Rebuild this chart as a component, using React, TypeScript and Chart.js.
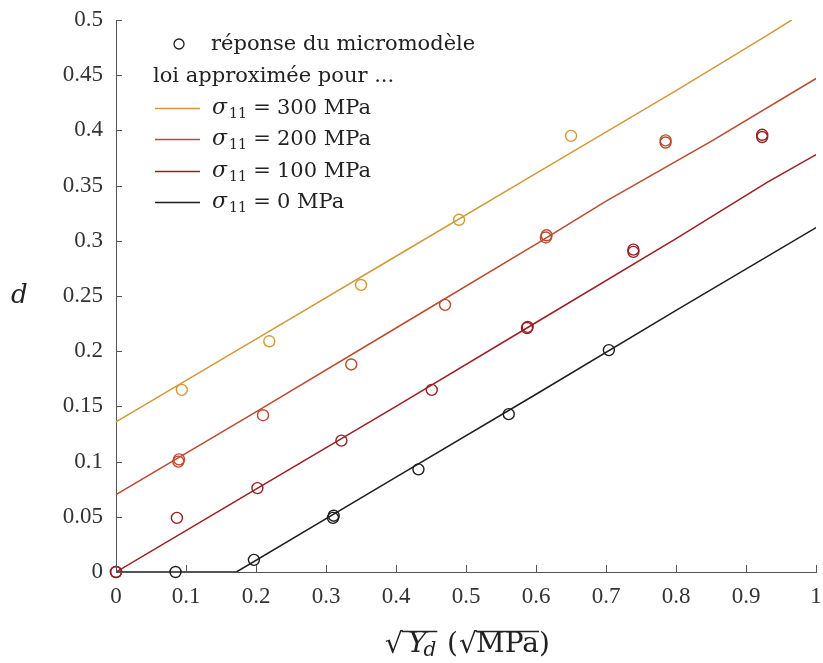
import React, { useEffect, useRef } from 'react';
import { Chart, registerables } from 'chart.js';

Chart.register(...registerables);

// ---- axis ticks ----
const xTickValues = [0, 0.1, 0.2, 0.3, 0.4, 0.5, 0.6, 0.7, 0.8, 0.9, 1];
const xTickLabels = ['0', '0.1', '0.2', '0.3', '0.4', '0.5', '0.6', '0.7', '0.8', '0.9', '1'];
const yTickValues = [0, 0.05, 0.1, 0.15, 0.2, 0.25, 0.3, 0.35, 0.4, 0.45, 0.5];
const yTickLabels = ['0', '0.05', '0.1', '0.15', '0.2', '0.25', '0.3', '0.35', '0.4', '0.45', '0.5'];

// ---- approximated laws (lines) ----
const line300X = [0, 0.2, 0.4, 0.6, 0.8, 0.93, 0.965];
const line300Y = [0.136, 0.211, 0.286, 0.361, 0.436, 0.486, 0.5];
const line200X = [0, 0.2, 0.4, 0.6, 0.7, 0.85, 1];
const line200Y = [0.07, 0.145, 0.221, 0.297, 0.336, 0.39, 0.447];
const line100X = [0, 0.2, 0.4, 0.6, 0.8, 0.93, 1];
const line100Y = [0, 0.075, 0.15, 0.226, 0.302, 0.353, 0.378];
const line0X = [0, 0.172, 0.4, 0.6, 0.8, 1];
const line0Y = [0, 0, 0.086, 0.161, 0.237, 0.312];

// ---- micromodel responses (points) ----
const pts300X = [0.094, 0.219, 0.35, 0.49, 0.65];
const pts300Y = [0.165, 0.209, 0.26, 0.319, 0.395];
const pts200X = [0.089, 0.09, 0.21, 0.336, 0.47, 0.614, 0.615, 0.785, 0.785];
const pts200Y = [0.1, 0.102, 0.142, 0.188, 0.242, 0.303, 0.305, 0.389, 0.391];
const pts100X = [0, 0.087, 0.202, 0.322, 0.451, 0.587, 0.588, 0.739, 0.739, 0.923, 0.923];
const pts100Y = [0, 0.049, 0.076, 0.119, 0.165, 0.221, 0.222, 0.29, 0.292, 0.394, 0.396];
const pts0X = [0, 0.085, 0.197, 0.31, 0.311, 0.432, 0.561, 0.704];
const pts0Y = [0, 0, 0.011, 0.049, 0.051, 0.093, 0.143, 0.201];

// ---- legend / labels ----
const legendMarkerText = 'réponse du micromodèle';
const legendHeader = 'loi approximée pour ...';
const stressValues = ['300', '200', '100', '0'];
const stressUnit = 'MPa';
const colors = ['#D1993B', '#BC4A2D', '#9A1E22', '#1E1E1E'];

const zip = (xs: number[], ys: number[]) => xs.map((x, i) => ({ x, y: ys[i] }));

const TICKFONT = '"Liberation Serif", serif';
const TEXTFONT = '"DejaVu Serif", serif';

const decorPlugin = {
  id: 'decor',
  afterDraw(chart: any) {
    const ctx = chart.ctx as CanvasRenderingContext2D;
    const xs = chart.scales.x;
    const ys = chart.scales.y;
    const area = chart.chartArea;
    ctx.save();
    // inward ticks
    ctx.strokeStyle = '#555';
    ctx.lineWidth = 1;
    xTickValues.forEach((v) => {
      const px = Math.round(xs.getPixelForValue(v)) + 0.5;
      ctx.beginPath();
      ctx.moveTo(px, area.bottom);
      ctx.lineTo(px, area.bottom - 7);
      ctx.stroke();
    });
    yTickValues.forEach((v) => {
      const py = Math.round(ys.getPixelForValue(v)) + 0.5;
      ctx.beginPath();
      ctx.moveTo(area.left, py);
      ctx.lineTo(area.left + 6, py);
      ctx.stroke();
    });

    // legend
    ctx.fillStyle = '#222';
    ctx.textBaseline = 'alphabetic';
    ctx.textAlign = 'left';
    ctx.strokeStyle = '#1E1E1E';
    ctx.lineWidth = 1.3;
    ctx.beginPath();
    ctx.arc(179, 44, 5, 0, Math.PI * 2);
    ctx.stroke();
    ctx.font = `21px ${TEXTFONT}`;
    ctx.fillText(legendMarkerText, 211, 50);
    ctx.fillText(legendHeader, 153, 82);
    const rowY = [108, 139, 171, 202];
    stressValues.forEach((s, i) => {
      const y = rowY[i];
      ctx.strokeStyle = colors[i];
      ctx.lineWidth = 1.5;
      ctx.beginPath();
      ctx.moveTo(155, y + 0.5);
      ctx.lineTo(200, y + 0.5);
      ctx.stroke();
      const base = y + 5.5;
      ctx.fillStyle = '#222';
      ctx.textAlign = 'left';
      ctx.font = `italic 22px ${TEXTFONT}`;
      ctx.fillText('σ', 212, base);
      const ws = ctx.measureText('σ').width;
      ctx.font = `14px ${TEXTFONT}`;
      ctx.fillText('11', 212 + ws + 2, base + 4);
      ctx.font = `21px ${TEXTFONT}`;
      ctx.textAlign = 'center';
      ctx.fillText('=', 262, base);
      ctx.textAlign = 'left';
      ctx.fillText(`${s} ${stressUnit}`, 277, base);
    });

    // y title
    ctx.fillStyle = '#222';
    ctx.font = `italic 26px ${TEXTFONT}`;
    ctx.fillText('d', 11, 303);

    // x title: √Y_d (√MPa)
    const base = 652;
    const barY = 631.5;
    ctx.font = `28px ${TEXTFONT}`;
    ctx.fillText('√', 385, base + 1);
    const root1End = 385 + ctx.measureText('√').width - 1;
    ctx.font = `italic 28px ${TEXTFONT}`;
    ctx.fillText('Y', 408, base);
    let x2 = 408 + ctx.measureText('Y').width - 3;
    ctx.font = `italic 20px ${TEXTFONT}`;
    ctx.fillText('d', x2, base + 4);
    x2 += ctx.measureText('d').width + 1;
    ctx.strokeStyle = '#222';
    ctx.lineWidth = 1.3;
    ctx.beginPath();
    ctx.moveTo(root1End, barY);
    ctx.lineTo(x2, barY);
    ctx.stroke();
    ctx.font = `28px ${TEXTFONT}`;
    ctx.fillText('(', 447, base);
    ctx.fillText('√', 459, base + 1);
    const root2End = 459 + ctx.measureText('√').width - 1;
    ctx.fillText('MPa', 476, base);
    const mpaEnd = 476 + ctx.measureText('MPa').width;
    ctx.beginPath();
    ctx.moveTo(root2End, barY);
    ctx.lineTo(mpaEnd, barY);
    ctx.stroke();
    ctx.fillText(')', mpaEnd, base);
    ctx.restore();
  },
};

export default function App() {
  const canvasRef = useRef<HTMLCanvasElement | null>(null);

  useEffect(() => {
    if (!canvasRef.current) return;
    const lineDs = (xs: number[], ys: number[], color: string) => ({
      type: 'line' as const,
      data: zip(xs, ys),
      borderColor: color,
      backgroundColor: color,
      borderWidth: 1.5,
      pointRadius: 0,
      fill: false,
      tension: 0,
    });
    const ptDs = (xs: number[], ys: number[], color: string) => ({
      type: 'scatter' as const,
      data: zip(xs, ys),
      borderColor: color,
      backgroundColor: 'rgba(0,0,0,0)',
      borderWidth: 1.4,
      pointRadius: 5.5,
      pointStyle: 'circle',
      showLine: false,
      clip: false as any,
    });
    const chart = new Chart(canvasRef.current, {
      type: 'scatter',
      data: {
        datasets: [
          ptDs(pts300X, pts300Y, colors[0]),
          ptDs(pts200X, pts200Y, colors[1]),
          ptDs(pts100X, pts100Y, colors[2]),
          ptDs(pts0X, pts0Y, colors[3]),
          lineDs(line300X, line300Y, colors[0]),
          lineDs(line200X, line200Y, colors[1]),
          lineDs(line100X, line100Y, colors[2]),
          lineDs(line0X, line0Y, colors[3]),
        ] as any,
      },
      options: {
        animation: false,
        responsive: true,
        maintainAspectRatio: false,
        layout: { padding: { top: 20, right: 6, left: 0, bottom: 0 } },
        plugins: { legend: { display: false }, tooltip: { enabled: false } },
        scales: {
          x: {
            type: 'linear',
            min: 0,
            max: 1,
            afterBuildTicks: (s: any) => {
              s.ticks = xTickValues.map((v) => ({ value: v }));
            },
            afterFit: (s: any) => {
              s.height = 91;
              s.paddingLeft = 0;
              s.paddingRight = 0;
            },
            ticks: {
              callback: (v: any) => xTickLabels[xTickValues.findIndex((t) => Math.abs(t - Number(v)) < 1e-9)] ?? '',
              font: { family: TICKFONT, size: 23 },
              color: '#333',
              padding: 11,
              maxRotation: 0,
              autoSkip: false,
            },
            grid: { display: true, drawOnChartArea: false, drawTicks: false },
            border: { display: true, color: '#555', width: 1 },
          },
          y: {
            type: 'linear',
            min: 0,
            max: 0.5,
            afterBuildTicks: (s: any) => {
              s.ticks = yTickValues.map((v) => ({ value: v }));
            },
            afterFit: (s: any) => {
              s.width = 116;
              s.paddingTop = 0;
              s.paddingBottom = 0;
            },
            ticks: {
              callback: (v: any) => yTickLabels[yTickValues.findIndex((t) => Math.abs(t - Number(v)) < 1e-9)] ?? '',
              font: { family: TICKFONT, size: 23 },
              color: '#333',
              padding: 13,
              autoSkip: false,
            },
            grid: { display: true, drawOnChartArea: false, drawTicks: false },
            border: { display: true, color: '#555', width: 1 },
          },
        },
      },
      plugins: [decorPlugin],
    });
    return () => chart.destroy();
  }, []);

  return (
    <div style={{ position: 'fixed', left: 0, top: 0, width: 823, height: 663, background: '#fff' }}>
      <canvas ref={canvasRef} />
    </div>
  );
}
